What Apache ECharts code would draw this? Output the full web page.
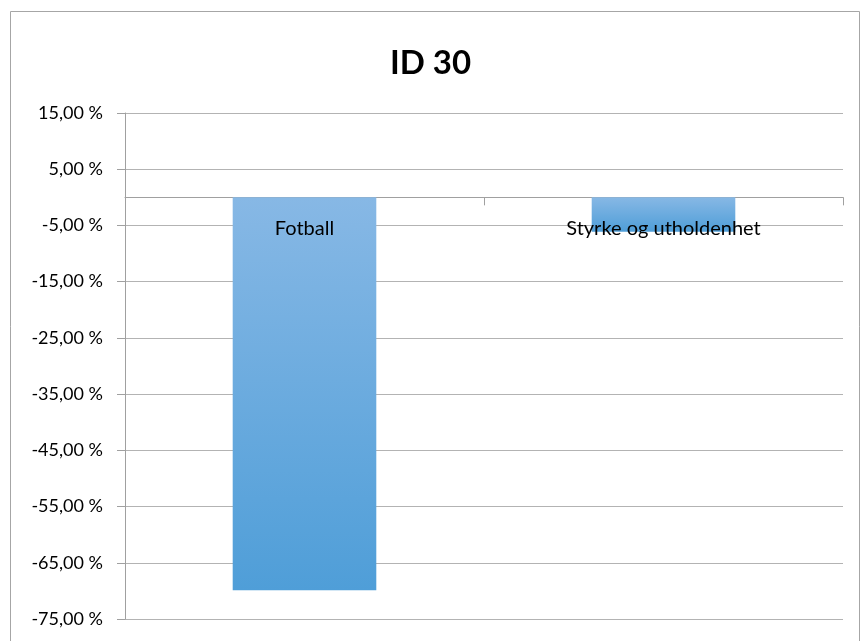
<!DOCTYPE html>
<html>
<head>
<meta charset="utf-8">
<script src="https://cdn.jsdelivr.net/npm/echarts@6/dist/echarts.min.js"></script>
<style>
  html, body { margin: 0; padding: 0; background: #fff; }
  #chart { width: 861px; height: 641px; }
</style>
</head>
<body>
<div id="chart"></div>
<script>
const title = 'ID 30'
const categories = ['Fotball', 'Styrke og utholdenhet']
const values = [-69.9, -6.1]
const yMin = -75
const yMax = 15
const yStep = 10

const chart = echarts.init(document.getElementById('chart'))

const font = 'Lato, "Open Sans", sans-serif'

// grid geometry, used to put the category labels just under the zero line
const gridTop = 113
const gridBottom = 22
const plotHeight = 641 - gridTop - gridBottom
const zeroOffset = plotHeight * yMax / (yMax - yMin)

const option = {
  animation: false,
  backgroundColor: '#fff',
  title: {
    text: title,
    left: 'center',
    top: 42,
    textStyle: { fontFamily: font, fontSize: 33, fontWeight: 'bold', color: '#000' }
  },
  graphic: [{
    type: 'rect',
    shape: { x: 10.5, y: 11.5, width: 849, height: 660 },
    style: { fill: null, stroke: '#a6a6a6', lineWidth: 1 },
    silent: true
  }],
  grid: { left: 125, right: 18, top: gridTop, bottom: gridBottom, outerBoundsMode: 'none' },
  xAxis: [
    {
      type: 'category',
      data: categories,
      axisLine: { onZero: true, lineStyle: { color: '#a0a0a0', width: 1 } },
      axisTick: { show: true, length: 8, lineStyle: { color: '#a0a0a0' } },
      axisLabel: { show: false },
      splitLine: { show: false }
    },
    {
      // labels only, drawn over the bars like in the original
      type: 'category',
      data: categories,
      position: 'top',
      offset: -zeroOffset,
      z: 10,
      axisLine: { show: false },
      axisTick: { show: false },
      axisLabel: { inside: true, margin: 21, fontFamily: font, fontSize: 20, color: '#000' },
      splitLine: { show: false }
    }
  ],
  yAxis: {
    type: 'value',
    min: yMin,
    max: yMax,
    interval: yStep,
    axisLine: { show: true, onZero: false, lineStyle: { color: '#a0a0a0' } },
    axisTick: { show: true, length: 8, lineStyle: { color: '#a0a0a0' } },
    axisLabel: {
      margin: 22,
      fontFamily: font,
      fontSize: 18,
      color: '#000',
      formatter: v => v.toFixed(2).replace('.', ',') + ' %'
    },
    splitLine: { lineStyle: { color: '#b3b3b3', width: 1 } }
  },
  series: [{
    type: 'bar',
    data: values,
    barWidth: '40%',
    itemStyle: {
      color: new echarts.graphic.LinearGradient(0, 0, 0, 1, [
        { offset: 0, color: '#87b8e5' },
        { offset: 1, color: '#4f9ed8' }
      ])
    }
  }]
}

chart.setOption(option)
</script>
</body>
</html>
